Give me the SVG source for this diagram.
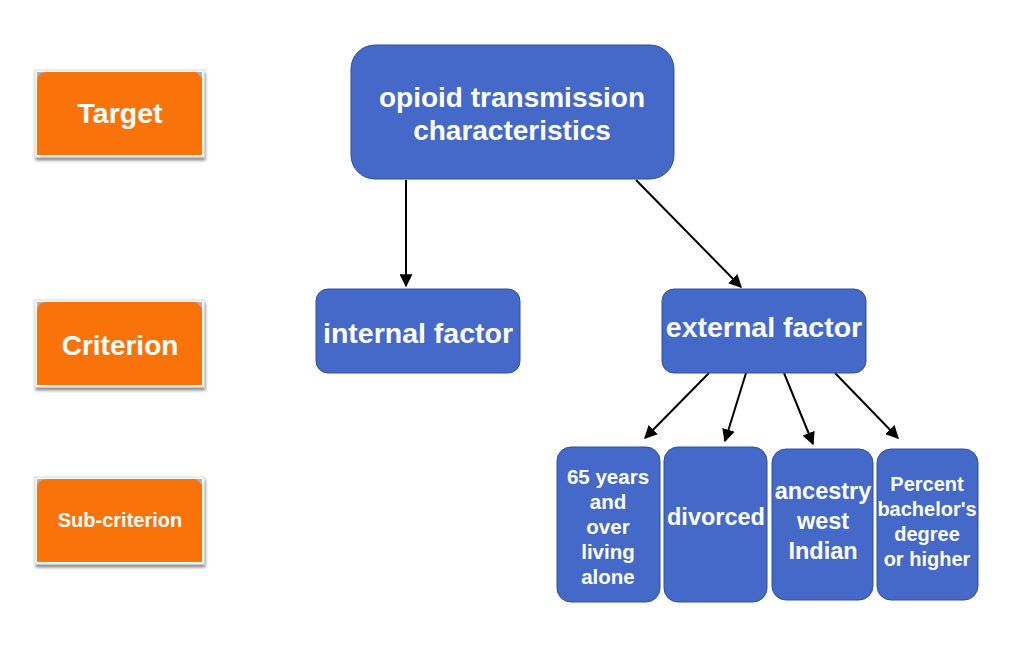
<svg xmlns="http://www.w3.org/2000/svg" width="1010" height="655" viewBox="0 0 1010 655">
<defs>
<style>
.node{fill:#4469C8;stroke:#2F4F9A;stroke-width:1}
.t{font-family:"Liberation Sans",Arial,sans-serif;font-weight:bold;fill:#fff;text-anchor:middle}
.conn line{stroke:#000;stroke-width:2;marker-end:url(#ah)}
.lab{fill:#FA730A}
.frame{fill:#fff;stroke:#d8d8d8;stroke-width:1}
</style>
<marker id="ah" viewBox="0 0 10 10" refX="9" refY="5" markerWidth="6.5" markerHeight="6.5" orient="auto" markerUnits="strokeWidth">
<path d="M0,0 L10,5 L0,10 z" fill="#000"/>
</marker>
<filter id="sh" x="-10%" y="-10%" width="130%" height="130%">
<feDropShadow dx="1" dy="3" stdDeviation="1.5" flood-color="#000" flood-opacity="0.45"/>
</filter>
</defs>
<g id="label-target">
<rect class="frame" x="35" y="70" width="169" height="87" filter="url(#sh)"/>
<rect x="37" y="72" width="165" height="83" fill="#b0b0b0"/>
<path class="lab" d="M47,72 H196 L202,78 V155 H37 V82 Q37,72 47,72 Z"/>
<text class="t" x="120" y="123" font-size="28.5">Target</text>
</g>
<g id="label-criterion">
<rect class="frame" x="35" y="300" width="169" height="87" filter="url(#sh)"/>
<rect x="37" y="302" width="165" height="83" fill="#b0b0b0"/>
<path class="lab" d="M47,302 H196 L202,308 V385 H37 V312 Q37,302 47,302 Z"/>
<text class="t" x="120" y="355" font-size="28">Criterion</text>
</g>
<g id="label-subcriterion">
<rect class="frame" x="35" y="477" width="169" height="87" filter="url(#sh)"/>
<rect x="37" y="479" width="165" height="83" fill="#b0b0b0"/>
<path class="lab" d="M47,479 H196 L202,485 V562 H37 V489 Q37,479 47,479 Z"/>
<text class="t" x="120" y="527" font-size="20">Sub-criterion</text>
</g>
<g class="conn" id="connectors">
<line x1="406" y1="180" x2="406" y2="286"/>
<line x1="636" y1="180" x2="741" y2="287"/>
<line x1="709" y1="373" x2="645" y2="438"/>
<line x1="746" y1="373" x2="725" y2="441"/>
<line x1="784" y1="373" x2="813" y2="444"/>
<line x1="835" y1="373" x2="898" y2="438"/>
</g>
<g id="node-main">
<rect class="node" x="351" y="45" width="323" height="134" rx="24"/>
<text class="t" x="512" y="107" font-size="28">opioid transmission</text>
<text class="t" x="512" y="140" font-size="28">characteristics</text>
</g>
<g id="node-internal">
<rect class="node" x="316" y="289" width="204" height="84" rx="12"/>
<text class="t" x="418" y="343" font-size="28.5">internal factor</text>
</g>
<g id="node-external">
<rect class="node" x="662" y="289" width="204" height="84" rx="12"/>
<text class="t" x="764" y="337" font-size="28.5">external factor</text>
</g>
<g id="node-65">
<rect class="node" x="557" y="447" width="103" height="155" rx="14"/>
<text class="t" x="608" y="484" font-size="20.5">65 years</text>
<text class="t" x="608" y="509" font-size="20.5">and</text>
<text class="t" x="608" y="534" font-size="20.5">over</text>
<text class="t" x="608" y="559" font-size="20.5">living</text>
<text class="t" x="608" y="584" font-size="20.5">alone</text>
</g>
<g id="node-divorced">
<rect class="node" x="664" y="447" width="103" height="155" rx="14"/>
<text class="t" x="716" y="525" font-size="23.5">divorced</text>
</g>
<g id="node-ancestry">
<rect class="node" x="772" y="449" width="101" height="151" rx="14"/>
<text class="t" x="823" y="499" font-size="23.5">ancestry</text>
<text class="t" x="823" y="529" font-size="23.5">west</text>
<text class="t" x="823" y="559" font-size="23.5">Indian</text>
</g>
<g id="node-bachelor">
<rect class="node" x="877" y="449" width="101" height="151" rx="14"/>
<text class="t" x="927" y="491" font-size="20">Percent</text>
<text class="t" x="927" y="516" font-size="20">bachelor's</text>
<text class="t" x="927" y="541" font-size="20">degree</text>
<text class="t" x="927" y="566" font-size="20">or higher</text>
</g>
</svg>
